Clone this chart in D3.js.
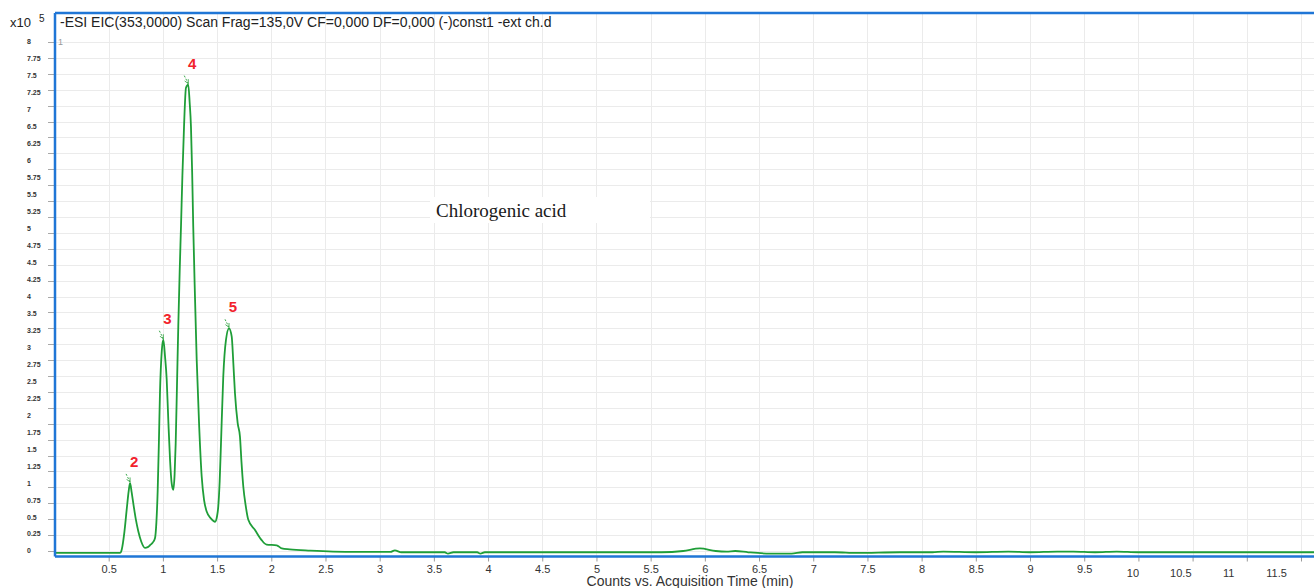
<!DOCTYPE html>
<html>
<head>
<meta charset="utf-8">
<script src="https://cdn.jsdelivr.net/npm/d3@7"></script>
<style>
  html, body { margin: 0; padding: 0; background: #fff; }
  svg { display: block; font-family: "Liberation Sans", Arial, sans-serif; }
</style>
</head>
<body>
<svg id="chart" width="1314" height="588"></svg>
<script>
// Extracted ion chromatogram, -ESI EIC(353) — counts (x10^5) against retention time (min)
const traceTimes = [
  0, 0.604, 0.62, 0.645, 0.666, 0.685, 0.697, 0.712, 0.727, 0.75, 0.773, 0.80, 0.835, 0.86, 0.881, 0.905, 0.927,
  0.94, 0.952, 0.963, 0.973, 0.99, 1.004, 1.02, 1.035, 1.05, 1.066, 1.082, 1.096, 1.108, 1.118, 1.13, 1.142,
  1.155, 1.167, 1.18, 1.195, 1.213, 1.234, 1.247, 1.259, 1.27, 1.28, 1.296, 1.312, 1.335, 1.358, 1.38, 1.404,
  1.444, 1.481, 1.50, 1.511, 1.524, 1.536, 1.557, 1.582, 1.61, 1.635, 1.65, 1.665, 1.69, 1.711, 1.725, 1.742,
  1.765, 1.788, 1.85, 1.911, 1.957, 2.05, 2.097, 2.17, 2.36, 2.57, 2.8, 3.1, 3.14, 3.2, 3.6, 3.63, 3.68, 3.9,
  3.93, 3.97, 4.5, 4.9, 5.2, 5.6, 5.8, 5.955, 6.1, 6.2, 6.28, 6.4, 6.6, 6.8, 6.9, 7.2, 7.4, 7.8, 8.1, 8.2, 8.5,
  8.8, 9.0, 9.25, 9.4, 9.6, 9.8, 10.0, 10.5, 11.0, 11.62
];
const traceCounts = [
  -0.03, -0.03, 0.02, 0.30, 0.65, 0.95, 1.07, 0.92, 0.75, 0.50, 0.31, 0.15, 0.05, 0.06, 0.09, 0.13, 0.20,
  0.45, 0.95, 1.70, 2.48, 3.15, 3.32, 3.05, 2.70, 2.05, 1.43, 1.05, 0.96, 1.20, 1.69, 2.60, 3.53,
  4.40, 5.10, 5.90, 6.67, 7.28, 7.33, 7.05, 6.67, 5.95, 5.10, 4.00, 3.00, 1.95, 1.17, 0.80, 0.62,
  0.51, 0.46, 0.55, 0.70, 1.10, 1.69, 2.74, 3.32, 3.50, 3.37, 2.95, 2.48, 2.01, 1.80, 1.40, 1.01,
  0.70, 0.49, 0.33, 0.17, 0.10, 0.09, 0.04, 0.025, 0.005, -0.01, -0.015, -0.015, 0.01, -0.02, -0.02, -0.04, -0.02, -0.02,
  -0.04, -0.02, -0.02, -0.02, -0.02, -0.02, 0.0, 0.04, 0.0, -0.01, 0.0, -0.02, -0.04, -0.04, -0.02, -0.02, -0.03, -0.02, -0.02, -0.01, -0.02,
  -0.01, -0.02, -0.01, -0.01, -0.02, -0.01, -0.02, -0.02, -0.02, -0.02
];

// Labelled peaks
const peakLabels = ["2", "3", "4", "5"];
const peakTimes = [0.697, 1.004, 1.234, 1.61];
const peakCounts = [1.07, 3.32, 7.33, 3.50];

// Axis ticks
const xTickValues = [0.5, 1, 1.5, 2, 2.5, 3, 3.5, 4, 4.5, 5, 5.5, 6, 6.5, 7, 7.5, 8, 8.5, 9, 9.5, 10, 10.5, 11, 11.5];
const yTickLabels = ["8", "7.75", "7.5", "7.25", "7", "6.5", "6.25", "6", "5.75", "5.5", "5.25", "5", "4.75",
  "4.5", "4.25", "4", "3.5", "3.25", "3", "2.75", "2.5", "2.25", "2", "1.75", "1.5", "1.25", "1", "0.75",
  "0.5", "0.25", "0"];
const yGridValues = d3.range(0, 8.001, 0.25);

const titleText = "-ESI EIC(353,0000) Scan Frag=135,0V CF=0,000 DF=0,000 (-)const1 -ext ch.d";
const compoundName = "Chlorogenic acid";
const xAxisTitle = "Counts vs. Acquisition Time (min)";

// Layout
const W = 1314, H = 588;
const plotLeft = 55, plotTop = 13, plotBottom = 556.5, plotRight = W;

const x = d3.scaleLinear().domain([0, 11.62]).range([54.5, 1314]);
const y = d3.scaleLinear().domain([0, 8]).range([551, 42]);
const yLabelPos = d3.scalePoint().domain(yTickLabels).range([42, 551]);

const svg = d3.select("#chart");
svg.append("rect").attr("width", W).attr("height", H).attr("fill", "#fff");

// Grid
const grid = svg.append("g").attr("stroke", "#ebebeb").attr("stroke-width", 1);
grid.selectAll("line.h").data(yGridValues).join("line")
  .attr("class", "h")
  .attr("x1", plotLeft).attr("x2", plotRight)
  .attr("y1", d => Math.round(y(d)) + 0.5).attr("y2", d => Math.round(y(d)) + 0.5);
grid.selectAll("line.v").data(xTickValues).join("line")
  .attr("class", "v")
  .attr("y1", plotTop).attr("y2", plotBottom)
  .attr("x1", d => Math.round(x(d)) + 0.5).attr("x2", d => Math.round(x(d)) + 0.5);

// Compound annotation with its white backdrop
svg.append("rect")
  .attr("x", 430).attr("y", 197).attr("width", 220).attr("height", 26)
  .attr("fill", "#fff");
svg.append("text")
  .attr("x", 436).attr("y", 217)
  .attr("font-family", "'Liberation Serif', 'DejaVu Serif', serif")
  .attr("font-size", 19)
  .attr("fill", "#1a1a1a")
  .text(compoundName);

// Trace
const line = d3.line()
  .x((d, i) => x(traceTimes[i]))
  .y(d => y(d))
  .curve(d3.curveMonotoneX);
svg.append("path")
  .datum(traceCounts)
  .attr("fill", "none")
  .attr("stroke", "#1f9e38")
  .attr("stroke-width", 1.8)
  .attr("stroke-linejoin", "round")
  .attr("d", line);

// Peak markers: short dashed arrows into each apex, and red peak numbers
const defs = svg.append("defs");
defs.append("marker")
  .attr("id", "arrowHead")
  .attr("viewBox", "0 0 10 10")
  .attr("refX", 9).attr("refY", 5)
  .attr("markerWidth", 5).attr("markerHeight", 5)
  .attr("orient", "auto")
  .append("path")
  .attr("d", "M1,1 L9,5 L1,9")
  .attr("fill", "none")
  .attr("stroke", "#3aa84a")
  .attr("stroke-width", 1.6);

const peaks = svg.append("g");
peaks.selectAll("line").data(peakTimes).join("line")
  .attr("x1", d => x(d) - 4).attr("y1", (d, i) => y(peakCounts[i]) - 9)
  .attr("x2", d => x(d)).attr("y2", (d, i) => y(peakCounts[i]) - 1)
  .attr("stroke", "#3aa84a")
  .attr("stroke-width", 1)
  .attr("stroke-dasharray", "2,1.5")
  .attr("marker-end", "url(#arrowHead)");
peaks.selectAll("text").data(peakTimes).join("text")
  .attr("x", d => x(d) + 4)
  .attr("y", (d, i) => y(peakCounts[i]) - 16)
  .attr("text-anchor", "middle")
  .attr("font-size", 15)
  .attr("font-weight", "bold")
  .attr("fill", "#f2222c")
  .text((d, i) => peakLabels[i]);

// X axis
const xAxis = d3.axisBottom(x)
  .tickValues(xTickValues)
  .tickSize(5)
  .tickPadding(4)
  .tickFormat(d => d3.format("")(d));
const gx = svg.append("g")
  .attr("transform", `translate(0,${plotBottom})`)
  .call(xAxis);
gx.select(".domain").remove();
gx.selectAll(".tick line").attr("stroke", "#9a9a9a");
gx.selectAll(".tick text")
  .attr("font-size", 11)
  .attr("fill", "#333")
  .attr("font-family", "'Liberation Sans', Arial, sans-serif")
  .attr("dx", d => d >= 10 ? -6 - (d - 10) * 12.6 : 0)
  .attr("dy", d => d >= 10 ? "1.0em" : "0.71em");

svg.append("text")
  .attr("x", 690).attr("y", 586)
  .attr("text-anchor", "middle")
  .attr("font-size", 14)
  .attr("fill", "#333")
  .text(xAxisTitle);

// Y axis: tick marks on the value scale, labels in an even column
svg.append("g").selectAll("line").data(yGridValues).join("line")
  .attr("x1", 48).attr("x2", plotLeft)
  .attr("y1", d => Math.round(y(d)) + 0.5).attr("y2", d => Math.round(y(d)) + 0.5)
  .attr("stroke", "#a8a8a8");
svg.append("g").selectAll("text").data(yTickLabels).join("text")
  .attr("x", 27)
  .attr("y", d => yLabelPos(d))
  .attr("dy", "0.35em")
  .attr("font-size", 7)
  .attr("font-weight", "bold")
  .attr("fill", "#333")
  .text(d => d);

// Plot frame
const frame = svg.append("g").attr("fill", "none").attr("stroke", "#1f76d6").attr("stroke-width", 2.5);
frame.append("line").attr("x1", plotLeft).attr("x2", plotRight).attr("y1", plotTop).attr("y2", plotTop);
frame.append("line").attr("x1", plotLeft).attr("x2", plotLeft).attr("y1", plotTop).attr("y2", plotBottom);
frame.append("line").attr("x1", plotLeft).attr("x2", plotRight).attr("y1", plotBottom).attr("y2", plotBottom);

// Header
svg.append("text").attr("x", 10).attr("y", 27).attr("font-size", 13).attr("fill", "#222").text("x10");
svg.append("text").attr("x", 39).attr("y", 22).attr("font-size", 10).attr("fill", "#222").text("5");
svg.append("text").attr("x", 60).attr("y", 27).attr("font-size", 14).attr("fill", "#222").text(titleText);
svg.append("text").attr("x", 58).attr("y", 45).attr("font-size", 9).attr("fill", "#999").text("1");
</script>
</body>
</html>
